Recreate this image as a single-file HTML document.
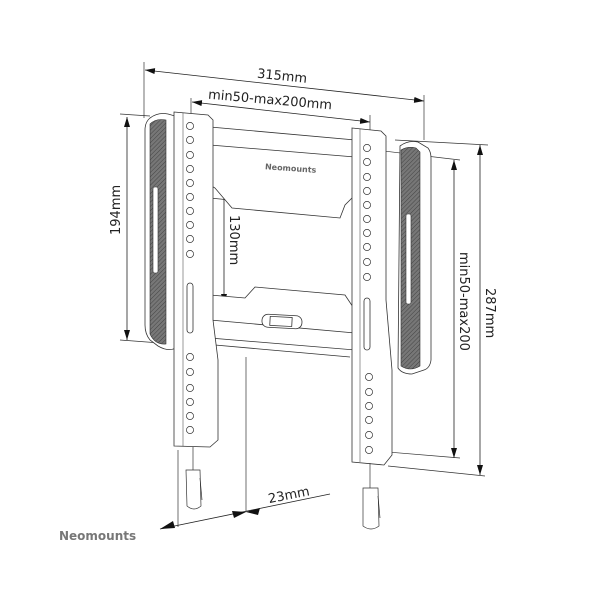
<!DOCTYPE html>
<html><head><meta charset="utf-8"><style>
html,body{margin:0;padding:0;background:#fff;width:600px;height:600px;overflow:hidden}
svg text{font-family:"DejaVu Sans","Liberation Sans",sans-serif;fill:#222}
</style></head><body>
<svg width="600" height="600" viewBox="0 0 600 600" xmlns="http://www.w3.org/2000/svg">
<defs>
<pattern id="h" width="3" height="3" patternUnits="userSpaceOnUse" patternTransform="rotate(45)">
<rect width="3" height="3" fill="#777"/><line x1="0" y1="0" x2="0" y2="3" stroke="#444" stroke-width="1"/>
</pattern>
<marker id="a" viewBox="0 0 10 6" refX="10" refY="3" markerWidth="10" markerHeight="6" orient="auto-start-reverse" markerUnits="userSpaceOnUse">
<path d="M0,0 L10,3 L0,6z" fill="#111"/></marker>
</defs>
<g stroke="#333" stroke-width="0.7" fill="none">
<line x1="144" y1="62" x2="144" y2="118"/>
<line x1="424" y1="95" x2="424" y2="140"/>
<line x1="191" y1="98" x2="191" y2="115"/>
<line x1="370" y1="115" x2="370" y2="132"/>
<line x1="120" y1="114" x2="150" y2="116"/>
<line x1="120" y1="340" x2="160" y2="343"/>
<line x1="395" y1="140" x2="488" y2="145"/>
<line x1="375" y1="150" x2="460" y2="160"/>
<line x1="376" y1="451" x2="460" y2="458"/>
<line x1="388" y1="466" x2="485" y2="476"/>
<line x1="178" y1="450" x2="178" y2="527"/>
<line x1="246" y1="357" x2="246" y2="512"/>
<line x1="210" y1="198" x2="230" y2="200"/>
<line x1="210" y1="305" x2="230" y2="306"/>
</g>
<g stroke="#222" stroke-width="0.8" marker-start="url(#a)" marker-end="url(#a)">
<line x1="145" y1="70" x2="424" y2="101"/>
<line x1="192" y1="102" x2="370" y2="122"/>
<line x1="127" y1="117" x2="127" y2="340"/>
<line x1="224" y1="163" x2="224" y2="304"/>
<line x1="454" y1="160" x2="454" y2="458"/>
<line x1="480" y1="145" x2="480" y2="475"/>
</g>
<line x1="160" y1="529" x2="330" y2="494" stroke="#222" stroke-width="0.8"/>
<path d="M160,529 L173,521 L175,528z M246,512 L232,511 L234,518z" fill="#111"/>
<path d="M246,512 L260,508 L258,515z" fill="#111"/>
<text x="257" y="80" font-size="13" transform="rotate(6 280 76)">315mm</text>
<text x="208" y="104" font-size="13" transform="rotate(5 270 100)">min50-max200mm</text>
<text x="0" y="0" font-size="13" transform="translate(120,235) rotate(-90)">194mm</text>
<text x="0" y="0" font-size="13" transform="translate(230,215) rotate(90)">130mm</text>
<text x="0" y="0" font-size="13" transform="translate(460,252) rotate(90)">min50-max200</text>
<text x="0" y="0" font-size="13" transform="translate(486,288) rotate(90)">287mm</text>
<text x="268" y="500" font-size="13" transform="rotate(-11 285 496)">23mm</text>
<text x="59" y="540" font-size="12" style="fill:#777;font-weight:bold">Neomounts</text>
<g stroke="#333" stroke-width="0.8" fill="#fff">
<path d="M210,127 L355,140 L355,195 L345,205 L340,218 L232,208 L215,188 L210,185z"/>
<path d="M210,295 L245,298 L255,287 L345,295 L355,310 L355,350 L210,338z"/>
<line x1="210" y1="145" x2="355" y2="157"/>
<line x1="210" y1="320" x2="355" y2="333"/>
<line x1="215" y1="345" x2="350" y2="357"/>
<rect x="262" y="315" width="40" height="13" rx="6" transform="rotate(3 282 321)"/>
<rect x="270" y="317" width="22" height="9" transform="rotate(3 282 321)"/>
</g>
<text x="265" y="171" font-size="8" style="fill:#666;font-weight:bold" transform="rotate(4 290 168)">Neomounts</text>
<path d="M150,118 Q158,112 168,114 L175,116 L176,348 Q168,352 158,346 L150,340 Q145,334 145,325 L145,130 Q145,122 150,118z" fill="#fff" stroke="#333" stroke-width="0.8"/>
<path d="M150,124 Q156,118 166,120 L166,344 Q155,345 150,334z" fill="url(#h)" stroke="#333" stroke-width="0.6"/>
<rect x="153" y="187" width="5" height="86" rx="2" fill="#fff" stroke="#333" stroke-width="0.6"/>
<path d="M400,146 Q408,140 418,142 L428,148 Q431,152 431,158 L431,360 Q430,368 424,370 L412,374 Q402,374 398,368z" fill="#fff" stroke="#333" stroke-width="0.8"/>
<path d="M401,150 Q408,146 416,148 L420,152 L420,366 Q410,372 401,366z" fill="url(#h)" stroke="#333" stroke-width="0.6"/>
<rect x="406" y="214" width="5" height="90" rx="2" fill="#fff" stroke="#333" stroke-width="0.6"/>
<g stroke="#333" stroke-width="0.8" fill="#fff">
<path d="M174,112 L208,115 L213,120 L213,320 L218,360 L218,440 L210,447 L174,446z"/>
<line x1="183" y1="113" x2="183" y2="446" stroke-width="0.5"/>
<rect x="187" y="283" width="6" height="50" rx="3"/>
<path d="M352,128 L381,131 L386,136 L386,300 L392,370 L392,455 L384,465 L352,462z"/>
<line x1="360" y1="129" x2="360" y2="462" stroke-width="0.5"/>
<rect x="364" y="298" width="6" height="52" rx="3"/>
</g>
<g stroke="#333" stroke-width="0.7" fill="#fff">
<circle cx="190" cy="126" r="3.6"/><circle cx="190" cy="140" r="3.6"/><circle cx="190" cy="155" r="3.6"/><circle cx="190" cy="169" r="3.6"/><circle cx="190" cy="183" r="3.6"/><circle cx="190" cy="197" r="3.6"/><circle cx="190" cy="211" r="3.6"/><circle cx="190" cy="225" r="3.6"/><circle cx="190" cy="239" r="3.6"/><circle cx="190" cy="254" r="3.6"/>
<circle cx="190" cy="357" r="3.6"/><circle cx="190" cy="372" r="3.6"/><circle cx="190" cy="388" r="3.6"/><circle cx="190" cy="402" r="3.6"/><circle cx="190" cy="416" r="3.6"/><circle cx="190" cy="430" r="3.6"/>
<circle cx="367" cy="148" r="3.6"/><circle cx="367" cy="162" r="3.6"/><circle cx="367" cy="177" r="3.6"/><circle cx="367" cy="191" r="3.6"/><circle cx="367" cy="205" r="3.6"/><circle cx="367" cy="219" r="3.6"/><circle cx="367" cy="233" r="3.6"/><circle cx="367" cy="247" r="3.6"/><circle cx="367" cy="262" r="3.6"/><circle cx="367" cy="277" r="3.6"/>
<circle cx="369" cy="377" r="3.6"/><circle cx="369" cy="392" r="3.6"/><circle cx="369" cy="406" r="3.6"/><circle cx="369" cy="420" r="3.6"/><circle cx="369" cy="435" r="3.6"/><circle cx="369" cy="450" r="3.6"/>
<line x1="193" y1="447" x2="193" y2="470"/>
<path d="M186,470 L200,470 L201,506 Q194,512 187,506z"/>
<line x1="200" y1="478" x2="202" y2="500"/>
<line x1="370" y1="463" x2="370" y2="488"/>
<path d="M363,488 L378,488 L379,526 Q371,532 363,526z"/>
<line x1="378" y1="496" x2="380" y2="518"/>
</g>
</svg>
</body></html>
